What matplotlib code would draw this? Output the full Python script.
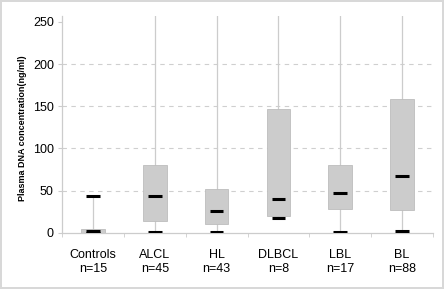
import matplotlib
matplotlib.use("Agg")
import matplotlib.pyplot as plt
import numpy as np

plt.rcParams["font.family"] = ["Liberation Sans", "DejaVu Sans"]

# ---------- 数据 ----------
categories = ["Controls", "ALCL", "HL", "DLBCL", "LBL", "BL"]
n_counts = [15, 45, 43, 8, 17, 88]
mins = [0.5, 1, 1, 18, 1.5, 2.7]
q1 = [0.5, 14, 11, 20.5, 28.5, 27.5]
medians = [2, 44, 26, 40, 47.5, 67.5]
q3 = [4.5, 81, 52, 146.5, 80, 158.5]
maxs = [44, 300, 300, 300, 300, 300]   # 超出 250 的被截断
y_ticks = [0, 50, 100, 150, 200, 250]

x = np.arange(len(categories)) + 0.5
labels = [f"{c}\nn={n}" for c, n in zip(categories, n_counts)]

fig = plt.figure(figsize=(4.44, 2.89), dpi=100)
fig.patch.set_edgecolor("#d8d8d8")
fig.patch.set_linewidth(1.5)
ax = fig.add_axes([0.14, 0.194, 0.835, 0.751])

# 网格
for v in y_ticks[1:-1]:
    ax.axhline(v, color="#cfcfcf", lw=0.8, ls=(0, (4, 4)), zorder=0)

# 最小-最大竖线
ax.vlines(x, mins, maxs, color="#cccccc", lw=0.9, zorder=1)
# 箱体 Q1-Q3
ax.bar(x, np.array(q3) - np.array(q1), bottom=q1, width=0.38,
       color="#cccccc", edgecolor="#bdbdbd", lw=0.6, zorder=2)
# 黑色短横：最大 / 中位数 / 最小
for vals in (maxs, medians, mins):
    ax.hlines(vals, x - 0.11, x + 0.11, color="black", lw=2.2, zorder=3)

ax.set_xlim(0, len(categories))
ax.set_ylim(0, 257)
ax.set_yticks(y_ticks)
ax.set_xticks(x)
ax.set_xticklabels(labels, fontsize=9)
ax.set_xticks(np.arange(len(categories) + 1), minor=True)
ax.tick_params(axis="x", which="major", length=0, pad=11.5)
ax.tick_params(axis="x", which="minor", length=3, color="#cccccc")
ax.tick_params(axis="y", labelsize=9, length=3, color="#cccccc", pad=3)

for s in ("top", "right"):
    ax.spines[s].set_visible(False)
for s in ("left", "bottom"):
    ax.spines[s].set_color("#cccccc")
    ax.spines[s].set_linewidth(0.9)

ax.set_ylabel("Plasma DNA concentration(ng/ml)", fontsize=6.5,
              fontweight="bold")
ax.yaxis.set_label_coords(-0.095, 0.484)

fig.savefig("out.png", dpi=100)
